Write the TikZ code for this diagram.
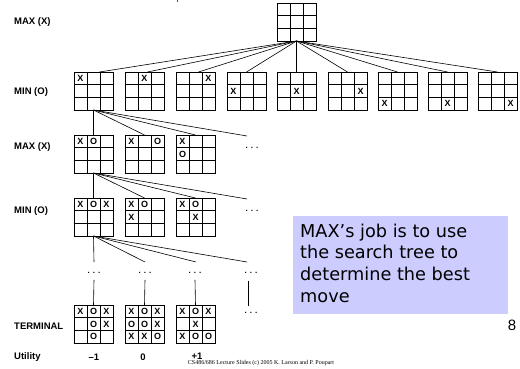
\documentclass[tikz,border=0pt]{standalone}
\usepackage{fontspec}
\setmainfont{Liberation Sans}
\newfontfamily\notefont{DejaVu Sans}
\newfontfamily\footfont{Liberation Serif}
\usetikzlibrary{calc}

\definecolor{noteblue}{RGB}{204,204,255}
\definecolor{titleblue}{RGB}{60,60,255}

\tikzset{
  board/.style={draw, line width=0.8pt, minimum width=39pt, minimum height=38pt,
                inner sep=0pt, outer sep=0pt, anchor=north west},
  gridline/.style={line width=0.8pt},
  cellmark/.style={font=\fontsize{9}{9}\selectfont\bfseries, inner sep=0pt},
  levellabel/.style={font=\fontsize{9.5}{10}\selectfont\bfseries, anchor=west, inner sep=0pt},
  utilvalue/.style={font=\fontsize{9.5}{10}\selectfont\bfseries, inner sep=0pt},
  treeedge/.style={line width=0.6pt},
  moredots/.style={font=\fontsize{8}{9}\selectfont\bfseries, inner sep=0pt},
  notebox/.style={fill=noteblue, anchor=north west, minimum width=215pt,
                  minimum height=98pt, inner sep=0pt},
  notetext/.style={font=\notefont\fontsize{17.7}{21.7}\selectfont, anchor=north west,
                   inner sep=0pt, align=left},
}

% an empty 3x3 tic-tac-toe board: name, x, y of its top left corner
\newcommand\ttboard[3]{%
  \node[board] (#1) at (#2,#3) {};
  \foreach \kk in {1,2}{
    \draw[gridline] ($(#1.north west)!\kk/3!(#1.north east)$) -- ($(#1.south west)!\kk/3!(#1.south east)$);
    \draw[gridline] ($(#1.north west)!\kk/3!(#1.south west)$) -- ($(#1.north east)!\kk/3!(#1.south east)$);
  }%
}
% marks on a board: list of row/column/letter
\newcommand\ttmarks[2]{%
  \foreach \rr/\cc/\mm in {#2}{
    \node[cellmark] at ($(#1.north west)+(13*\cc-6.5,12.67*\rr-6.33)$) {\mm};
  }%
}

\begin{document}
\begin{tikzpicture}[x=1pt, y=-1pt]
\useasboundingbox (0,0) rectangle (520,369);
\fill[white] (0,0) rectangle (520,369);
\fill[titleblue] (176.5,0) rectangle (178.3,2.5);

% level labels
\node[levellabel] (l1) at (14,22)  {MAX (X)};
\node[levellabel] (l2) at (14,92)  {MIN (O)};
\node[levellabel] (l3) at (14,147) {MAX (X)};
\node[levellabel] (l4) at (14,211) {MIN (O)};
\node[levellabel] (l5) at (14,326) {TERMINAL};
\node[levellabel] (l6) at (14,357) {Utility};

% root
\ttboard{root}{277}{3}

% first moves of X
\ttboard{m1}{74}{72}   \ttmarks{m1}{1/1/X}
\ttboard{m2}{125}{72}  \ttmarks{m2}{1/2/X}
\ttboard{m3}{176}{72}  \ttmarks{m3}{1/3/X}
\ttboard{m4}{227}{72}  \ttmarks{m4}{2/1/X}
\ttboard{m5}{277}{72}  \ttmarks{m5}{2/2/X}
\ttboard{m6}{328}{72}  \ttmarks{m6}{2/3/X}
\ttboard{m7}{378}{72}  \ttmarks{m7}{3/1/X}
\ttboard{m8}{428}{72}  \ttmarks{m8}{3/2/X}
\ttboard{m9}{478}{72}  \ttmarks{m9}{3/3/X}

\draw[treeedge] (root.south) -- ($(m1.north)+(6,0)$);
\draw[treeedge] (root.south) -- ($(m2.north)+(3,0)$);
\draw[treeedge] (root.south) -- ($(m3.north)+(3,0)$);
\draw[treeedge] (root.south) -- (m4.north);
\draw[treeedge] (root.south) -- (m5.north);
\draw[treeedge] (root.south) -- (m6.north);
\draw[treeedge] (root.south) -- (m7.north);
\draw[treeedge] (root.south) -- (m8.north);
\draw[treeedge] (root.south) -- (m9.north);

% replies of O
\ttboard{a1}{74}{135}  \ttmarks{a1}{1/1/X,1/2/O}
\ttboard{a2}{125}{135} \ttmarks{a2}{1/1/X,1/3/O}
\ttboard{a3}{176}{135} \ttmarks{a3}{1/1/X,2/1/O}
\coordinate (a4) at (247,136);
\node[moredots] (ad) at (252,148) {. . .};

\draw[treeedge] (m1.south) -- (a1.north);
\draw[treeedge] (m1.south) -- (a2.north);
\draw[treeedge] (m1.south) -- (a3.north);
\draw[treeedge] (m1.south) -- (a4);

% second moves of X
\ttboard{b1}{74}{198}  \ttmarks{b1}{1/1/X,1/2/O,1/3/X}
\ttboard{b2}{125}{198} \ttmarks{b2}{1/1/X,1/2/O,2/1/X}
\ttboard{b3}{176}{198} \ttmarks{b3}{1/1/X,1/2/O,2/2/X}
\coordinate (b4) at (247,199);
\node[moredots] (bd) at (252,211) {. . .};

\draw[treeedge] (a1.south) -- (b1.north);
\draw[treeedge] (a1.south) -- (b2.north);
\draw[treeedge] (a1.south) -- (b3.north);
\draw[treeedge] (a1.south) -- (b4);

% deeper levels
\coordinate (c1) at (94,262);
\coordinate (c2) at (145,262);
\coordinate (c3) at (196,262);
\coordinate (c4) at (247,262);
\draw[treeedge] (b1.south) -- (c1);
\draw[treeedge] (b1.south) -- (c2);
\draw[treeedge] (b1.south) -- (c3);
\draw[treeedge] (b1.south) -- (c4);

\node[moredots] (p1) at (94,273)  {. . .};
\node[moredots] (p2) at (145,273) {. . .};
\node[moredots] (p3) at (195,273) {. . .};
\node[moredots] (p4) at (251,273) {. . .};

% terminal positions
\ttboard{t1}{74}{305}  \ttmarks{t1}{1/1/X,1/2/O,1/3/X,2/2/O,2/3/X,3/2/O}
\ttboard{t2}{125}{305} \ttmarks{t2}{1/1/X,1/2/O,1/3/X,2/1/O,2/2/O,2/3/X,3/1/X,3/2/X,3/3/O}
\ttboard{t3}{176}{305} \ttmarks{t3}{1/1/X,1/2/O,1/3/X,2/2/X,3/1/X,3/2/O,3/3/O}

\draw[treeedge] ($(p1.south)+(0,6)$) -- (t1.north);
\draw[treeedge] ($(p2.south)+(0,6)$) -- (t2.north);
\draw[treeedge] ($(p3.south)+(0,6)$) -- (t3.north);
\coordinate (v4a) at (248,281);
\coordinate (v4b) at (248,306);
\draw[treeedge] (v4a) -- (v4b);
\node[moredots] (q4) at (251,313) {. . .};

% utilities
\node[utilvalue] (u1) at (94,357)  {–1};
\node[utilvalue] (u2) at (143,357) {0};
\node[utilvalue] (u3) at (197,356) {+1};

% note
\node[notebox] (note) at (293,216) {};
\node[notetext] (notetxt) at (300,223.5)
  {MAX’s job is to use\\the search tree to\\determine the best\\move};

% footer
\node[font=\footfont\fontsize{6}{7}\selectfont, inner sep=0pt] (foot) at (261,363)
  {CS486/686 Lecture Slides (c) 2005 K. Larson and P. Poupart};
\node[font=\fontsize{15}{16}\selectfont, inner sep=0pt] (page) at (512,325) {8};
\end{tikzpicture}
\end{document}
